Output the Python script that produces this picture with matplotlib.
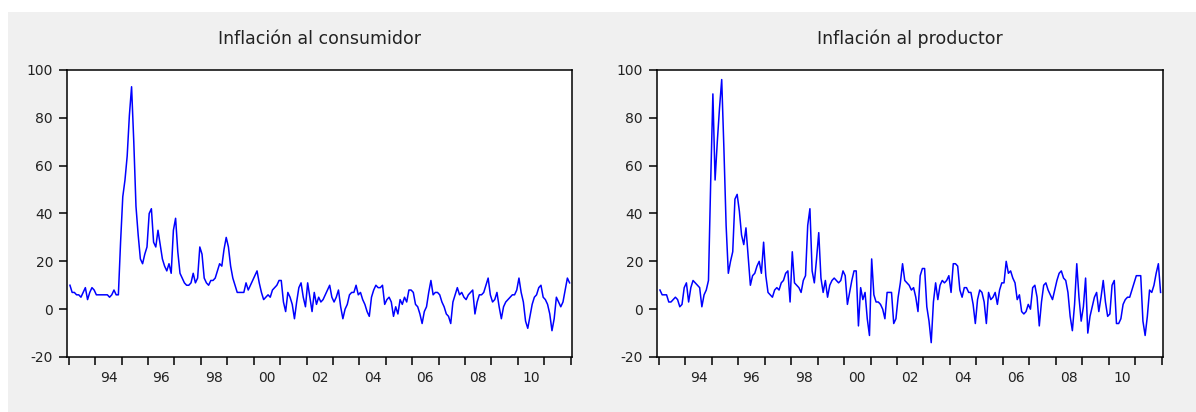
import numpy as np
import matplotlib.pyplot as plt
from matplotlib.patches import Rectangle

plt.rcParams["axes.unicode_minus"] = False

# inflacion mensual anualizada, ene-1993 a dic-2011 (12 valores por anio)
consumidor = [
    10, 7, 7, 6, 6, 5, 7, 9, 4, 7, 9, 8,          # 1993
    6, 6, 6, 6, 6, 6, 5, 6, 8, 6, 6, 28,          # 1994
    47, 54, 64, 81, 93, 70, 43, 31, 21, 19, 23, 26,  # 1995
    40, 42, 28, 26, 33, 27, 21, 18, 16, 19, 15, 33,  # 1996
    38, 24, 15, 13, 11, 10, 10, 11, 15, 11, 13, 26,  # 1997
    23, 13, 11, 10, 12, 12, 13, 16, 19, 18, 25, 30,  # 1998
    26, 18, 13, 10, 7, 7, 7, 7, 11, 8, 10, 12,    # 1999
    14, 16, 11, 7, 4, 5, 6, 5, 8, 9, 10, 12,      # 2000
    12, 3, -1, 7, 5, 2, -4, 3, 9, 11, 5, 1,       # 2001
    11, 5, -1, 7, 2, 5, 3, 4, 6, 8, 10, 5,        # 2002
    3, 5, 8, 1, -4, 0, 2, 6, 7, 7, 10, 6,         # 2003
    7, 4, 2, -1, -3, 5, 8, 10, 9, 9, 10, 2,       # 2004
    4, 5, 3, -3, 1, -2, 4, 2, 5, 3, 8, 8,         # 2005
    7, 2, 1, -2, -6, -1, 1, 7, 12, 6, 7, 7,       # 2006
    6, 3, 1, -2, -3, -6, 3, 6, 9, 6, 7, 5,        # 2007
    4, 6, 7, 8, -2, 3, 6, 6, 7, 10, 13, 6,        # 2008
    3, 4, 7, 1, -4, 1, 3, 4, 5, 6, 6, 8,          # 2009
    13, 7, 3, -5, -8, -3, 2, 5, 6, 9, 10, 5,      # 2010
    4, 2, -2, -9, -4, 5, 3, 1, 3, 8, 13, 11,      # 2011
]

productor = [
    8, 6, 6, 6, 3, 3, 4, 5, 4, 1, 2, 9,           # 1993
    11, 3, 9, 12, 11, 10, 9, 1, 6, 8, 12, 53,     # 1994
    90, 54, 70, 84, 96, 67, 35, 15, 20, 24, 46, 48,  # 1995
    41, 31, 27, 34, 22, 10, 14, 15, 18, 20, 15, 28,  # 1996
    14, 7, 6, 5, 8, 9, 8, 11, 12, 15, 16, 3,      # 1997
    24, 11, 10, 9, 7, 12, 14, 35, 42, 16, 11, 21,  # 1998
    32, 13, 7, 12, 5, 10, 12, 13, 12, 11, 12, 16,  # 1999
    14, 2, 7, 12, 16, 16, -7, 9, 4, 7, -4, -11,   # 2000
    21, 6, 3, 3, 2, 0, -4, 7, 7, 7, -6, -4,       # 2001
    5, 11, 19, 12, 11, 10, 8, 9, 5, -1, 14, 17,   # 2002
    17, 1, -5, -14, 3, 11, 4, 10, 12, 11, 12, 14,  # 2003
    7, 19, 19, 18, 8, 5, 9, 9, 7, 7, 2, -6,       # 2004
    4, 8, 7, 3, -6, 7, 4, 5, 7, 2, 8, 11,         # 2005
    11, 20, 15, 16, 13, 11, 4, 6, -1, -2, -1, 2,  # 2006
    0, 9, 10, 5, -7, 3, 10, 11, 8, 6, 4, 8,       # 2007
    12, 15, 16, 13, 12, 7, -3, -9, 2, 19, 5, -5,  # 2008
    1, 13, -10, -3, 1, 5, 7, -1, 5, 12, 3, -3,    # 2009
    -2, 10, 12, -6, -6, -4, 2, 4, 5, 5, 8, 11,    # 2010
    14, 14, 14, -5, -11, -3, 8, 7, 10, 15, 19, 7,  # 2011
]

titulos = ["Inflación al consumidor", "Inflación al productor"]
anios = list(range(1993, 2013))
etiquetas_x = ["94", "96", "98", "00", "02", "04", "06", "08", "10"]
pos_etiquetas = [1994.5, 1996.5, 1998.5, 2000.5, 2002.5, 2004.5, 2006.5, 2008.5, 2010.5]
yticks = [-20, 0, 20, 40, 60, 80, 100]

W, H = 1196, 412
fig = plt.figure(figsize=(W / 100, H / 100), dpi=100)
fig.patch.set_facecolor("white")
# marco gris de la ventana
fondo = Rectangle((8 / W, 0), 1 - 8 / W, 1 - 12 / H, transform=fig.transFigure,
                  facecolor="#f0f0f0", edgecolor="none", zorder=-10)
fig.add_artist(fondo)

cajas = [[67 / W, 1 - 357 / H, 505 / W, 287 / H],
         [657 / W, 1 - 357 / H, 506 / W, 287 / H]]

for caja, serie, titulo in zip(cajas, [consumidor, productor], titulos):
    ax = fig.add_axes(caja)
    ax.set_zorder(1)
    x = 1993 + (np.arange(len(serie)) + 0.5) / 12
    ax.plot(x, serie, color="#0000ff", lw=1.1)
    ax.set_xlim(1992.93, 2012.05)
    ax.set_ylim(-20, 100)
    ax.set_facecolor("white")
    for s in ax.spines.values():
        s.set_linewidth(1.1)
        s.set_color("black")

    ax.set_yticks(yticks)
    ax.set_xticks(anios)
    ax.set_xticklabels([])
    ax.set_xticks(pos_etiquetas, minor=True)
    ax.set_xticklabels(etiquetas_x, minor=True)
    ax.tick_params(axis="x", which="major", direction="out", length=6, width=1.1)
    ax.tick_params(axis="x", which="minor", length=0, pad=10)
    ax.tick_params(axis="y", direction="out", length=6, width=1.1, pad=4)
    for lab in ax.get_xticklabels(minor=True) + ax.get_yticklabels():
        lab.set_fontsize(10)
        lab.set_color("#222222")

    ax.set_title(titulo, fontsize=12.5, color="#222222", pad=19)

plt.savefig("out.png", dpi=100)
